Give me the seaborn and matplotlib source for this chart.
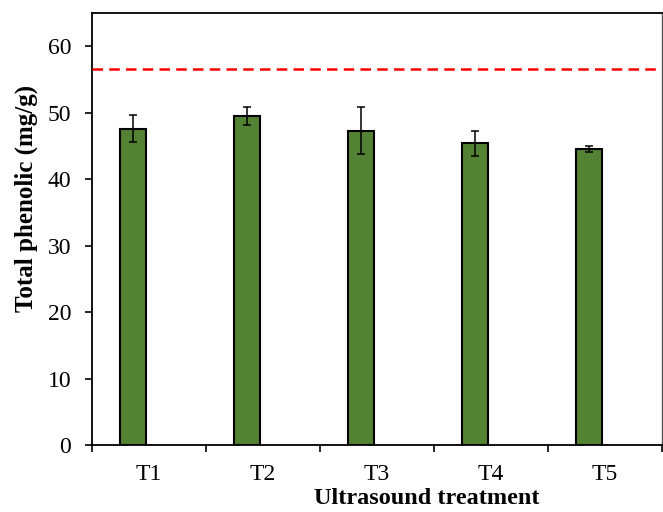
import matplotlib
matplotlib.use("Agg")
import matplotlib.pyplot as plt
import seaborn as sns
import pandas as pd
import numpy as np

treatments = ["T1", "T2", "T3", "T4", "T5"]
phenolic_mean = [47.6, 49.5, 47.3, 45.4, 44.6]
phenolic_sd = [2.0, 1.35, 3.5, 1.9, 0.45]
control_level = 56.5

sns.set_theme(style="white")
plt.rcParams["font.family"] = ["Liberation Serif", "DejaVu Serif"]
plt.rcParams["text.color"] = "black"
plt.rcParams["axes.labelcolor"] = "black"
plt.rcParams["xtick.color"] = "black"
plt.rcParams["ytick.color"] = "black"

df = pd.DataFrame({
    "treatment": treatments * 2,
    "value": phenolic_mean + [np.nan] * len(treatments),
    "series": ["sample"] * len(treatments) + ["blank"] * len(treatments),
})

fig = plt.figure(figsize=(6.63, 5.12), dpi=100)
ax = fig.add_axes([92/663, 1 - 445/512, 570/663, 432/512])

sns.barplot(data=df, x="treatment", y="value", hue="series",
            hue_order=["sample", "blank"], order=treatments,
            palette=["#548235", "#548235"], saturation=1, width=0.56, gap=0.18,
            edgecolor="black", linewidth=1.5, errorbar=None, legend=False, ax=ax)

bars = [p for p in ax.patches if np.isfinite(p.get_height()) and p.get_height() > 0]
bars = sorted(bars, key=lambda p: p.get_x())
xs = [p.get_x() + p.get_width() / 2 for p in bars]
hs = [p.get_height() for p in bars]
ax.errorbar(xs, hs, yerr=phenolic_sd, fmt="none", ecolor="black",
            elinewidth=1.1, capsize=2.6, capthick=1.1, zorder=5)

ax.axhline(control_level, color="#ff0000", ls=(0, (4.2, 2.5)), lw=1.8, zorder=4)

ax.set_xlim(-0.5, 4.5)
ax.set_ylim(0, 65)
ax.set_yticks(np.arange(0, 61, 10))
ax.set_xticks(np.arange(-0.5, 4.6, 1.0))
ax.set_xticklabels([])
ax.set_xticks(np.arange(0, 5), minor=True)
ax.set_xticklabels(treatments, minor=True)
ax.tick_params(axis="x", which="major", direction="out", length=5, width=1.2,
               bottom=True, color="black")
ax.tick_params(axis="x", which="minor", length=0, labelsize=17, pad=14)
ax.tick_params(axis="y", direction="out", length=5, width=1.2, left=True,
               labelsize=17, color="black", pad=10)
for s in ax.spines.values():
    s.set_color("black")
    s.set_linewidth(1.3)
ax.spines["right"].set_color("#555555")
ax.spines["right"].set_linewidth(1.0)

ax.set_xlabel("Ultrasound treatment", fontsize=17.5, fontweight="bold")
ax.xaxis.set_label_coords(0.588, -0.1355)
ax.xaxis.label.set_va("baseline")
ax.set_ylabel("Total phenolic (mg/g)", fontsize=18, fontweight="bold")
ax.yaxis.set_label_coords(-0.1158, 0.5706)
ax.yaxis.label.set_va("center")

fig.savefig("out.png", dpi=100)
